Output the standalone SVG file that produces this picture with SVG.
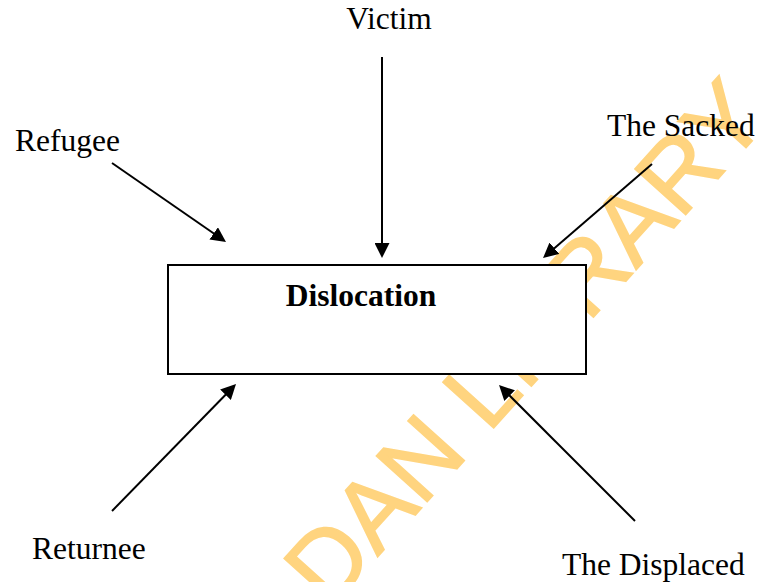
<svg xmlns="http://www.w3.org/2000/svg" width="759" height="582" viewBox="0 0 759 582">
  <style>
    .lbl { font-family: "Liberation Serif", "Times New Roman", serif; font-size: 31.5px; fill: #000; }
    .bold { font-weight: bold; }
    .conn { stroke: #000; stroke-width: 2; fill: none; marker-end: url(#arrow); }
    .wm { font-family: "Liberation Sans", Arial, sans-serif; font-size: 99.3px; fill: #FFD47F; stroke: #FFD47F; stroke-width: 1.6px; }
  </style>
  <defs>
    <marker id="arrow" viewBox="0 0 15 15" refX="5" refY="7.5" markerWidth="15" markerHeight="15" markerUnits="userSpaceOnUse" orient="auto">
      <path d="M0,0 L15,7.5 L0,15 z" fill="#000"/>
    </marker>
  </defs>
  <rect width="759" height="582" fill="#fff"/>
  <g id="watermark">
    <text class="wm" transform="translate(401,531) rotate(-48)" x="-1054" y="0">UNIVERSITY OF IBADAN LIBRARY</text>
  </g>
  <g id="connectors">
    <line class="conn" x1="382" y1="57" x2="382" y2="248"/>
    <line class="conn" x1="112" y1="163" x2="217.8" y2="236.3"/>
    <line class="conn" x1="652" y1="164" x2="550.6" y2="251.5"/>
    <line class="conn" x1="112" y1="511" x2="229" y2="391.2"/>
    <line class="conn" x1="635" y1="521" x2="506.1" y2="392.1"/>
  </g>
  <g id="dislocation">
    <rect x="168" y="265" width="418" height="109" fill="#fff" stroke="#000" stroke-width="2"/>
    <text class="lbl bold" x="361" y="306" text-anchor="middle">Dislocation</text>
  </g>
  <g id="victim"><text class="lbl" x="389" y="29" text-anchor="middle">Victim</text></g>
  <g id="refugee"><text class="lbl" x="15" y="151">Refugee</text></g>
  <g id="sacked"><text class="lbl" x="607" y="136">The Sacked</text></g>
  <g id="returnee"><text class="lbl" x="32" y="559">Returnee</text></g>
  <g id="displaced"><text class="lbl" x="562" y="575">The Displaced</text></g>
</svg>
